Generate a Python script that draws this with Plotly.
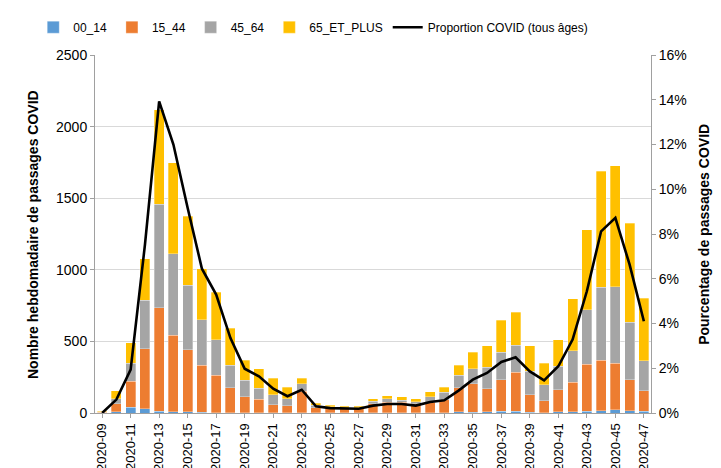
import plotly.graph_objects as go

# weekly ER visits for COVID by age group, 2020-09 to 2020-47
weeks = [f"2020-{w:02d}" for w in range(9, 48)]

age_00_14 = [1, 10, 40, 30, 12, 10, 8, 5, 3, 2, 2, 2, 1, 1, 2, 1, 1, 1, 1, 1,
             1, 1, 1, 1, 2, 10, 5, 10, 12, 12, 5, 3, 8, 8, 12, 15, 23, 15, 12]
age_15_44 = [4, 53, 181, 417, 724, 532, 434, 328, 262, 175, 112, 93, 57, 50, 149, 34, 34, 30, 30, 62,
             73, 73, 64, 73, 91, 165, 198, 160, 221, 274, 123, 83, 153, 206, 330, 355, 324, 218, 144]
age_45_64 = [3, 37, 128, 340, 723, 571, 449, 319, 245, 158, 116, 77, 68, 49, 54, 19, 10, 7, 7, 18,
             24, 14, 12, 38, 51, 88, 107, 151, 193, 186, 163, 112, 165, 221, 380, 507, 533, 402, 209]
age_65_plus = [5, 56, 140, 291, 657, 635, 482, 354, 335, 256, 140, 138, 118, 79, 39, 13, 9, 8, 8, 17,
               23, 26, 21, 37, 35, 70, 116, 149, 223, 233, 179, 151, 184, 363, 556, 811, 847, 690, 438]

# share of COVID visits, all ages (%)
prop_covid = [0.0, 0.6, 1.94, 7.5, 13.93, 12.0, 9.16, 6.45, 5.29, 3.35, 1.98, 1.64, 1.09, 0.75, 1.04,
              0.3, 0.22, 0.2, 0.19, 0.33, 0.4, 0.4, 0.33, 0.49, 0.57, 1.0, 1.49, 1.79, 2.28, 2.49,
              1.86, 1.46, 2.09, 3.28, 5.44, 8.12, 8.72, 6.63, 4.1]

tick_labels = weeks[::2]

font = "Liberation Sans, Arial, sans-serif"
fig = go.Figure()
for name, vals, col in [("00_14", age_00_14, "#5B9BD5"),
                        ("15_44", age_15_44, "#ED7D31"),
                        ("45_64", age_45_64, "#A5A5A5"),
                        ("65_ET_PLUS", age_65_plus, "#FFC000")]:
    fig.add_trace(go.Bar(x=weeks, y=vals, name=name, marker_color=col,
                         marker_line=dict(color="rgba(255,255,255,0.6)", width=0.5)))

fig.add_trace(go.Scatter(x=weeks, y=[p / 100 for p in prop_covid], name="Proportion COVID (tous âges)",
                         mode="lines", line=dict(color="black", width=2.6), yaxis="y2"))

axis_style = dict(showline=True, linecolor="#A0A0A0", ticks="outside", tickcolor="#A0A0A0",
                  ticklen=4, automargin=False)

fig.update_layout(
    barmode="stack", bargap=0.3,
    width=721, height=468,
    margin=dict(l=87, r=78, t=47, b=63),
    plot_bgcolor="white", paper_bgcolor="white",
    font=dict(family=font, size=13, color="black"),
    showlegend=True,
    legend=dict(orientation="h", xref="container", yref="container", x=0.035, xanchor="left",
                y=0.99, yanchor="top", font=dict(size=12), itemwidth=30,
                tracegroupgap=0, traceorder="normal"),
    xaxis=dict(type="category", tickvals=tick_labels, ticktext=tick_labels, tickangle=-90,
               tickfont=dict(size=13), **axis_style),
    yaxis=dict(range=[0, 2500], dtick=500, showgrid=True, gridcolor="#D9D9D9", zeroline=False,
               tickfont=dict(size=14), **axis_style),
    yaxis2=dict(range=[0, 0.16], dtick=0.02, tickformat=".0%", overlaying="y", side="right",
                showgrid=False, zeroline=False, tickfont=dict(size=14), **axis_style),
    annotations=[
        dict(text="<b>Nombre hebdomadaire de passages COVID</b>", textangle=-90, showarrow=False,
             xref="paper", yref="paper", x=-0.1295, y=0.5, font=dict(size=14)),
        dict(text="<b>Pourcentage de passages COVID</b>", textangle=-90, showarrow=False,
             xref="paper", yref="paper", x=1.113, y=0.5, font=dict(size=14)),
    ],
)

fig.write_html("out.html")
